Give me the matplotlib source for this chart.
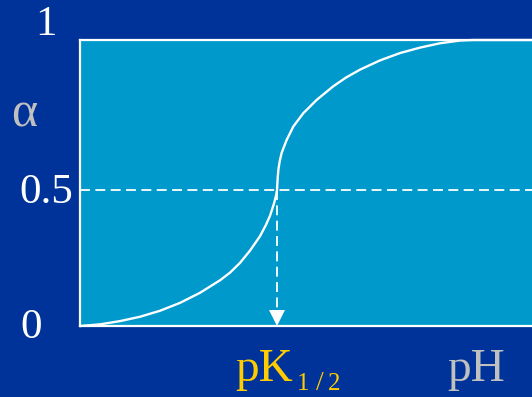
import matplotlib
matplotlib.use("Agg")
import matplotlib.pyplot as plt

# Curve (x: pH in arbitrary units, y: alpha)
ph_vals = [0, 20, 40, 60, 80, 100, 120, 140, 150, 160, 170, 180, 186,
           190, 194, 196.2, 197, 197.3, 197.8, 198.5, 199.8, 201.7, 206.7,
           213.3, 223.3, 236.7, 253.3, 266, 280, 300, 320, 340, 360, 380,
           393, 452]
alpha_vals = [0.0, 0.006, 0.018, 0.034, 0.056, 0.085, 0.122, 0.168, 0.196,
              0.232, 0.277, 0.330, 0.372, 0.405, 0.450, 0.482, 0.5, 0.52,
              0.55, 0.578, 0.607, 0.637, 0.684, 0.733, 0.782, 0.831, 0.881,
              0.913, 0.942, 0.976, 1.003, 1.023, 1.039, 1.049, 1.051, 1.051]
pk_half = 197
alpha_mid = 0.5
ytick_labels = ["0", "0.5", "1"]
x_max = 452
y_top = 1.051

BG = "#003399"
AXBG = "#0099CC"
WHITE = "#FFFFFF"
GRAY = "#C0C0C0"
YELLOW = "#FFCC00"
SERIF = ["Liberation Serif", "DejaVu Serif"]

W, H = 532, 397
fig = plt.figure(figsize=(W / 100, H / 100), dpi=100, facecolor=BG)
ax = fig.add_axes([80 / W, (H - 326) / H, (W - 80) / W, 286 / H])
ax.set_facecolor(AXBG)
ax.set_xlim(0, x_max)
ax.set_ylim(0, y_top)
ax.set_xticks([])
ax.set_yticks([])
for side in ["left", "top", "bottom"]:
    ax.spines[side].set_color(WHITE)
    ax.spines[side].set_linewidth(1.6)
ax.spines["right"].set_visible(False)

# dashed helpers
ax.plot([0, x_max], [alpha_mid, alpha_mid], color=WHITE, lw=1.3,
        dashes=(5.5, 3), clip_on=False)
ax.plot([pk_half, pk_half], [alpha_mid, 0.04], color=WHITE, lw=1.3,
        dashes=(5.5, 3))
ax.plot([pk_half], [0.028], marker="v", markersize=11.5, color=WHITE,
        markeredgewidth=0, clip_on=False)

# titration curve
ax.plot(ph_vals, alpha_vals, color=WHITE, lw=1.7, clip_on=False,
        solid_capstyle="round", solid_joinstyle="round")


def ftext(x, y, s, **kw):
    fig.text(x / W, 1 - y / H, s, family=SERIF, **kw)


ftext(46, 25, ytick_labels[2], color=WHITE, fontsize=31, ha="center", va="center")
ftext(46, 193, ytick_labels[1], color=WHITE, fontsize=31, ha="center", va="center")
ftext(31, 328, ytick_labels[0], color=WHITE, fontsize=31, ha="center", va="center")
ftext(24, 114, "α", color=GRAY, fontsize=36, ha="center", va="center")
ftext(235, 381, "pK", color=YELLOW, fontsize=34, ha="left", va="baseline")
ftext(297, 390, "1", color=YELLOW, fontsize=18, ha="left", va="baseline")
ftext(320, 390, "/", color=YELLOW, fontsize=20, ha="center", va="baseline")
ftext(328, 390, "2", color=YELLOW, fontsize=18, ha="left", va="baseline")
ftext(447, 381, "pH", color=GRAY, fontsize=34, ha="left", va="baseline")

fig.savefig("out.png", dpi=100, facecolor=BG)
